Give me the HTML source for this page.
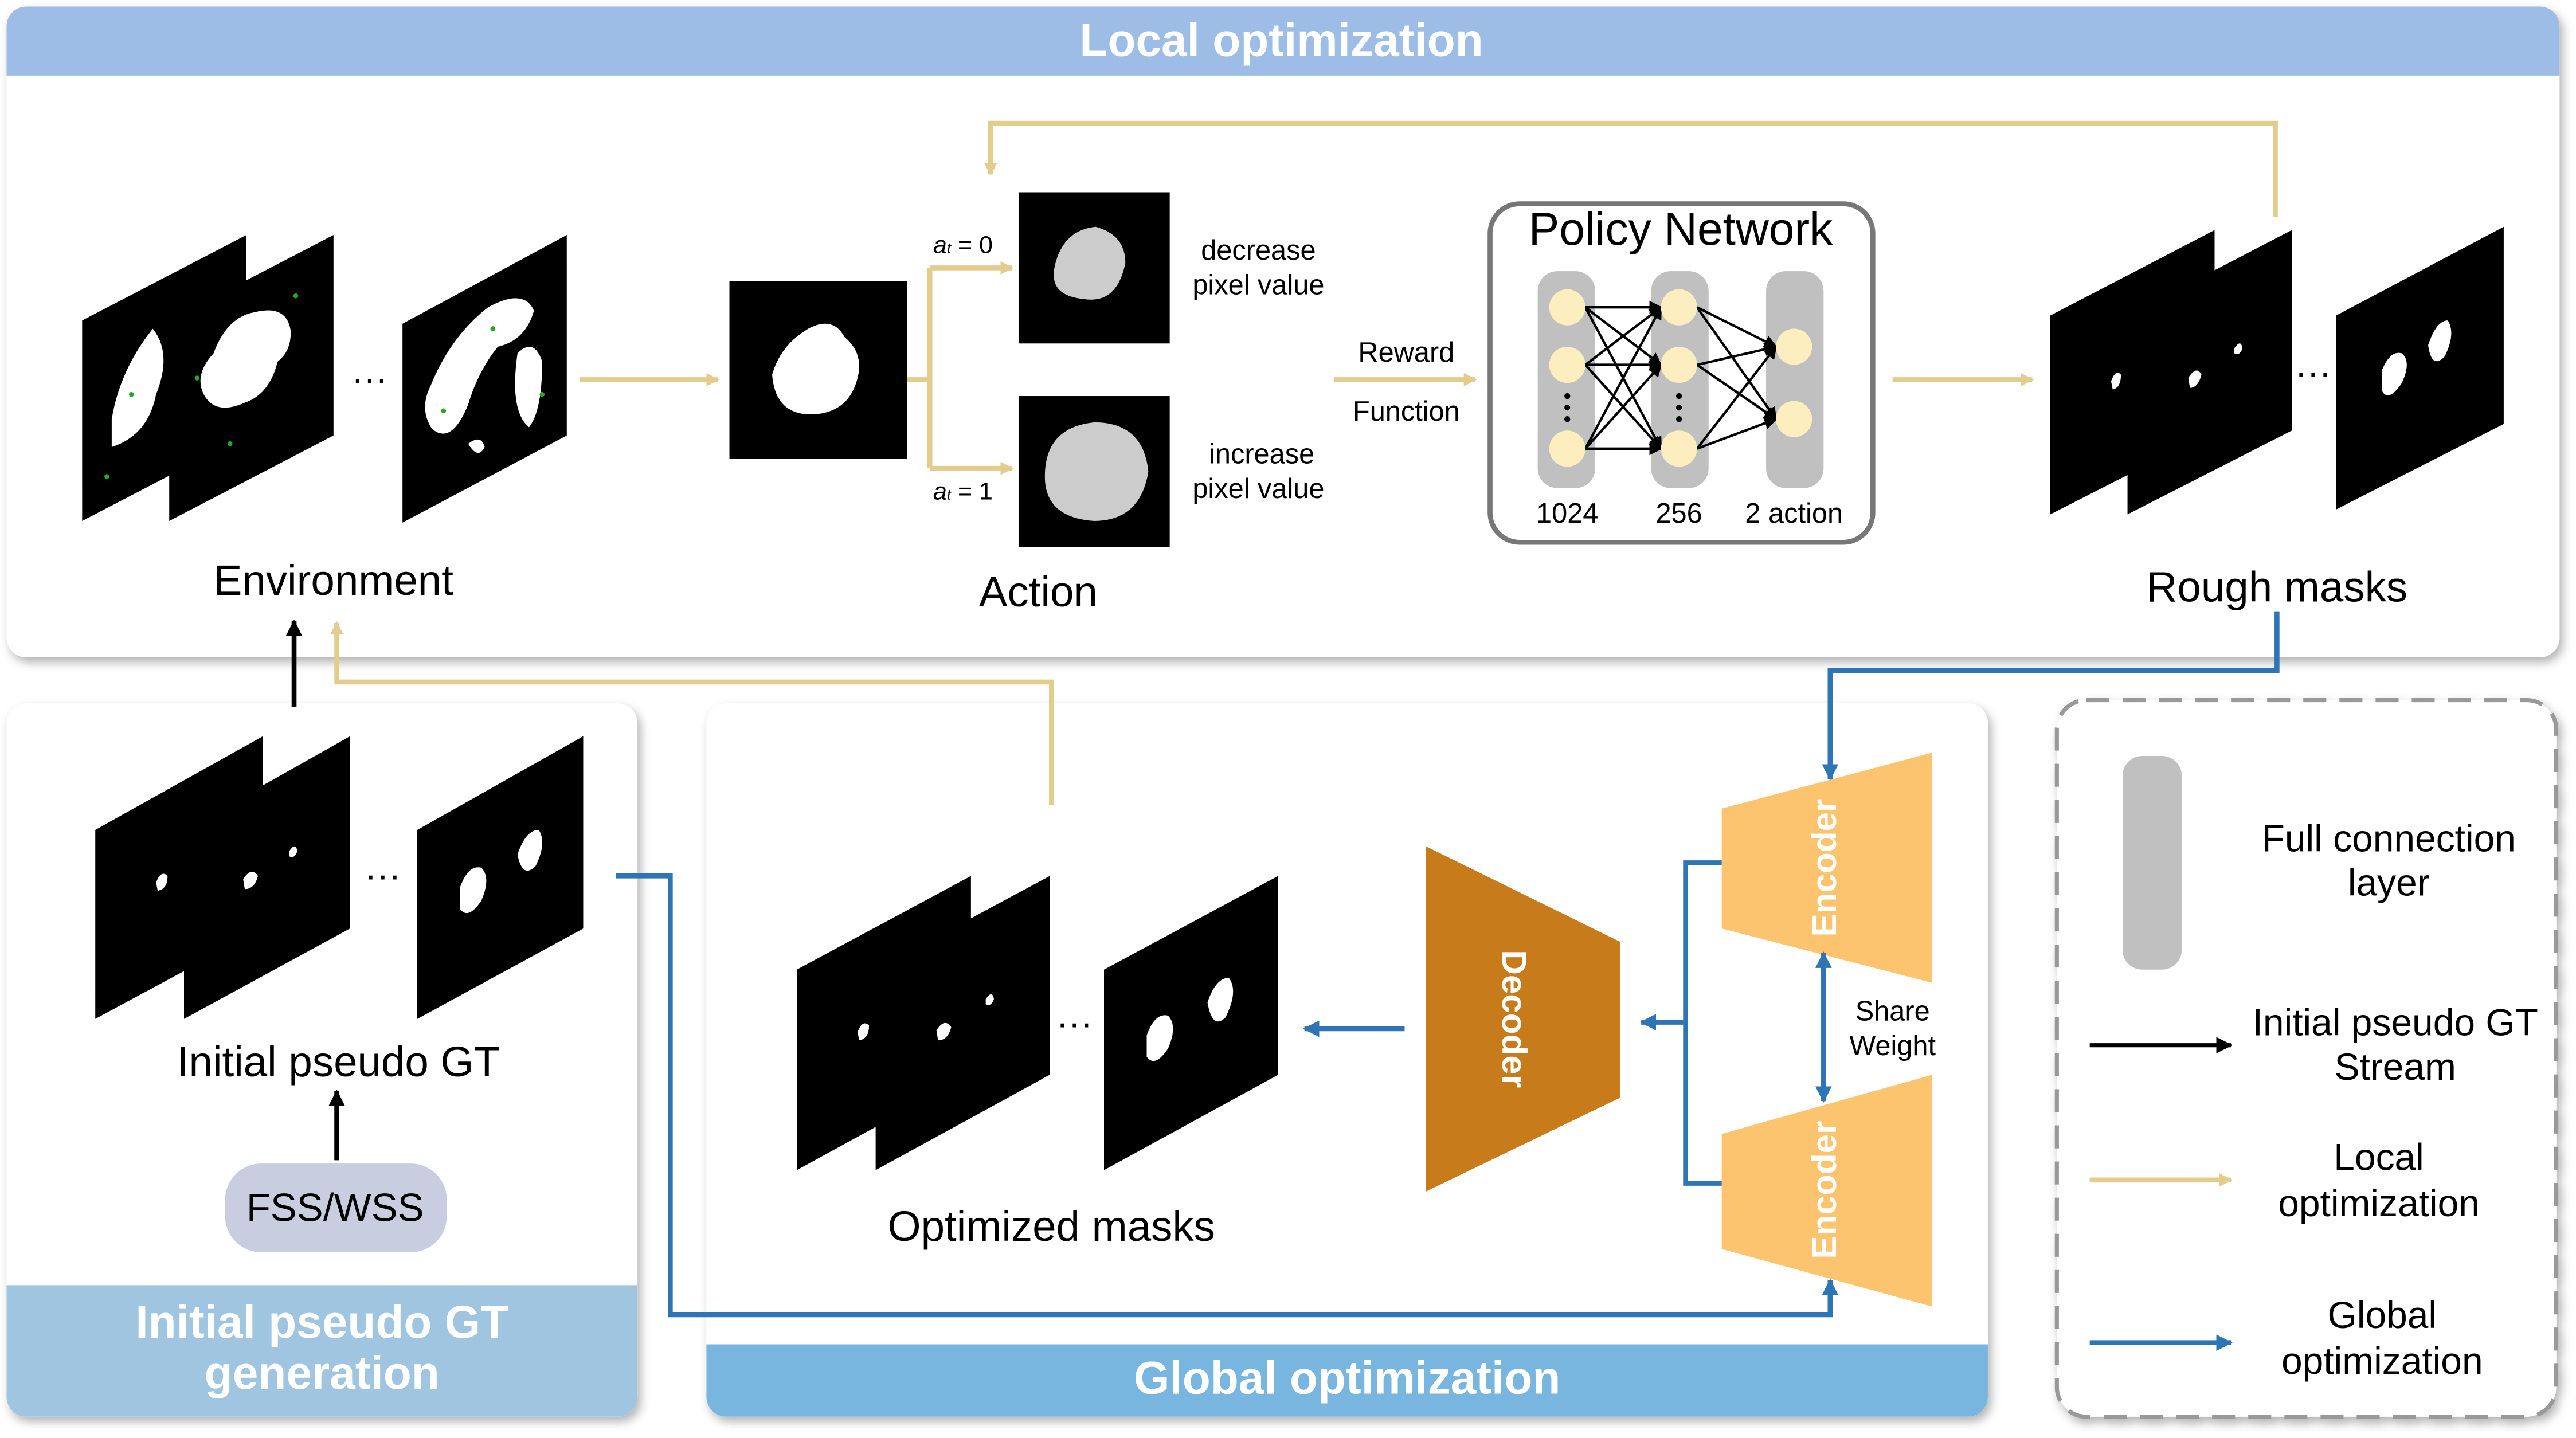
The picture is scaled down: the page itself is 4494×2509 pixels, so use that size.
<!DOCTYPE html>
<html><head><meta charset="utf-8">
<style>
html,body{margin:0;padding:0;background:#fff;}
svg{display:block;}
text{font-family:"Liberation Sans",Arial,sans-serif;}
</style></head>
<body>
<svg width="4494" height="2509" viewBox="0 0 1568 875" preserveAspectRatio="none" xmlns="http://www.w3.org/2000/svg">
<defs>
<filter id="sh" x="-5%" y="-5%" width="110%" height="115%"><feDropShadow dx="2" dy="3" stdDeviation="3" flood-color="#000" flood-opacity="0.3"/></filter>
<marker id="aT" markerWidth="8" markerHeight="8" refX="7" refY="4" orient="auto" markerUnits="userSpaceOnUse"><path d="M0,0 L8,4 L0,8 Z" fill="#e3cc8c"/></marker>
<marker id="aB" markerWidth="10" markerHeight="10" refX="9" refY="5" orient="auto" markerUnits="userSpaceOnUse"><path d="M0,0 L10,5 L0,10 Z" fill="#2e75b6"/></marker>
<marker id="aK" markerWidth="10" markerHeight="10" refX="9" refY="5" orient="auto" markerUnits="userSpaceOnUse"><path d="M0,0 L10,5 L0,10 Z" fill="#000"/></marker>
<marker id="aS" markerWidth="8" markerHeight="8" refX="7" refY="4" orient="auto" markerUnits="userSpaceOnUse"><path d="M0,0 L8,4 L0,8 Z" fill="#000"/></marker>
</defs>

<rect x="4" y="4" width="1554" height="396" rx="12" fill="#fff" filter="url(#sh)"/>
<path d="M4,16 a12,12 0 0 1 12,-12 H1546 a12,12 0 0 1 12,12 V46 H4 Z" fill="#9dbde6"/>
<text x="780" y="34" font-size="28" font-weight="bold" fill="#fff" text-anchor="middle">Local optimization</text>

<rect x="4" y="428" width="384" height="434" rx="12" fill="#fff" filter="url(#sh)"/>
<path d="M4,782 H388 V850 a12,12 0 0 1 -12,12 H16 a12,12 0 0 1 -12,-12 Z" fill="#9fc5e0"/>
<text x="196" y="814" font-size="28" font-weight="bold" fill="#fff" text-anchor="middle">Initial pseudo GT</text>
<text x="196" y="845" font-size="28" font-weight="bold" fill="#fff" text-anchor="middle">generation</text>

<rect x="430" y="428" width="780" height="434" rx="12" fill="#fff" filter="url(#sh)"/>
<path d="M430,818 H1210 V850 a12,12 0 0 1 -12,12 H442 a12,12 0 0 1 -12,-12 Z" fill="#78b6e0"/>
<text x="820" y="848" font-size="28" font-weight="bold" fill="#fff" text-anchor="middle">Global optimization</text>

<rect x="1252" y="426" width="304" height="436" rx="18" fill="#fff" stroke="#999" stroke-width="2.5" stroke-dasharray="14,8" filter="url(#sh)"/>
<rect x="1292" y="460" width="36" height="130" rx="12" fill="#c0c0c0"/>
<text x="1454" y="518" font-size="23" text-anchor="middle">Full connection</text>
<text x="1454" y="545" font-size="23" text-anchor="middle">layer</text>
<line x1="1272" y1="636" x2="1358" y2="636" stroke="#000" stroke-width="2.5" marker-end="url(#aK)"/>
<text x="1458" y="630" font-size="23" text-anchor="middle">Initial pseudo GT</text>
<text x="1458" y="657" font-size="23" text-anchor="middle">Stream</text>
<line x1="1272" y1="718" x2="1358" y2="718" stroke="#e3cc8c" stroke-width="3" marker-end="url(#aT)"/>
<text x="1448" y="712" font-size="23" text-anchor="middle">Local</text>
<text x="1448" y="740" font-size="23" text-anchor="middle">optimization</text>
<line x1="1272" y1="817" x2="1358" y2="817" stroke="#2e75b6" stroke-width="3" marker-end="url(#aB)"/>
<text x="1450" y="808" font-size="23" text-anchor="middle">Global</text>
<text x="1450" y="836" font-size="23" text-anchor="middle">optimization</text>

<polygon points="50,195 150,143 150,265 50,317" fill="#000"/>
<polygon points="103,195 203,143 203,265 103,317" fill="#000"/>
<path d="M130,215 q8,-22 25,-25 q20,-5 22,12 q0,12 -8,18 q-5,20 -20,25 q-18,8 -25,-5 q-6,-12 6,-25z" fill="#fff"/>
<path d="M68,255 q5,-30 25,-55 q12,15 2,40 q-5,25 -27,32 z" fill="#fff"/>
<polygon points="245,197 345,143 345,265 245,318" fill="#000"/>
<path d="M262,235 q12,-30 35,-48 q22,-12 28,2 q-5,18 -22,22 q-12,15 -18,35 q-10,25 -22,15 q-8,-12 -1,-26z M315,215 q10,-10 15,5 q0,30 -8,40 q-12,-10 -7,-45z M285,270 q8,-6 10,2 q-4,8 -10,-2z" fill="#fff"/>
<g fill="#2a2"><circle cx="80" cy="240" r="1.5"/><circle cx="120" cy="230" r="1.5"/><circle cx="270" cy="250" r="1.5"/><circle cx="300" cy="200" r="1.5"/><circle cx="140" cy="270" r="1.5"/><circle cx="330" cy="240" r="1.5"/><circle cx="65" cy="290" r="1.5"/><circle cx="180" cy="180" r="1.5"/></g>
<text x="225" y="238" font-size="22" text-anchor="middle">···</text>
<text x="203" y="362" font-size="26" text-anchor="middle">Environment</text>

<line x1="353" y1="231" x2="437" y2="231" stroke="#e3cc8c" stroke-width="3" marker-end="url(#aT)"/>
<rect x="444" y="171" width="108" height="108" fill="#000"/>
<path d="M470,228 q5,-18 22,-28 q15,-8 22,5 q12,10 8,25 q-5,20 -25,22 q-25,2 -27,-24z" fill="#fff"/>
<path d="M552,231 H566 M566,163 V285" stroke="#e3cc8c" stroke-width="3" fill="none"/>
<line x1="566" y1="163" x2="616" y2="163" stroke="#e3cc8c" stroke-width="3" marker-end="url(#aT)"/>
<line x1="566" y1="285" x2="616" y2="285" stroke="#e3cc8c" stroke-width="3" marker-end="url(#aT)"/>
<text x="568" y="154" font-size="15" font-family="Liberation Serif" font-style="italic">a<tspan font-size="9">t</tspan><tspan font-style="normal"> = 0</tspan></text>
<text x="568" y="304" font-size="15" font-family="Liberation Serif" font-style="italic">a<tspan font-size="9">t</tspan><tspan font-style="normal"> = 1</tspan></text>
<rect x="620" y="117" width="92" height="92" fill="#000"/>
<path d="M642,162 q5,-22 25,-24 q18,5 18,22 q-5,25 -25,22 q-22,-2 -18,-20z" fill="#ccc"/>
<rect x="620" y="241" width="92" height="92" fill="#000"/>
<path d="M636,290 q0,-30 30,-33 q30,0 33,30 q-5,30 -33,30 q-30,-2 -30,-27z" fill="#ccc"/>
<text x="766" y="158" font-size="17" text-anchor="middle">decrease</text>
<text x="766" y="179" font-size="17" text-anchor="middle">pixel value</text>
<text x="768" y="282" font-size="17" text-anchor="middle">increase</text>
<text x="766" y="303" font-size="17" text-anchor="middle">pixel value</text>
<text x="632" y="369" font-size="26" text-anchor="middle">Action</text>
<text x="856" y="220" font-size="17" text-anchor="middle">Reward</text>
<text x="856" y="256" font-size="17" text-anchor="middle">Function</text>
<line x1="812" y1="231" x2="898" y2="231" stroke="#e3cc8c" stroke-width="3" marker-end="url(#aT)"/>

<rect x="907" y="124" width="233" height="206" rx="18" fill="#fff" stroke="#777" stroke-width="3"/>
<text x="1023" y="149" font-size="28" text-anchor="middle">Policy Network</text>
<rect x="936" y="165" width="35" height="132" rx="12" fill="#c0c0c0"/>
<rect x="1005" y="165" width="35" height="132" rx="12" fill="#c0c0c0"/>
<rect x="1075" y="165" width="35" height="132" rx="12" fill="#c0c0c0"/>
<g stroke="#000" stroke-width="1.5" marker-end="url(#aS)">
<line x1="965" y1="187" x2="1011" y2="187"/><line x1="965" y1="187" x2="1011" y2="222"/><line x1="965" y1="187" x2="1011" y2="273"/>
<line x1="965" y1="222" x2="1011" y2="187"/><line x1="965" y1="222" x2="1011" y2="222"/><line x1="965" y1="222" x2="1011" y2="273"/>
<line x1="965" y1="273" x2="1011" y2="187"/><line x1="965" y1="273" x2="1011" y2="222"/><line x1="965" y1="273" x2="1011" y2="273"/>
<line x1="1033" y1="187" x2="1081" y2="211"/><line x1="1033" y1="187" x2="1081" y2="255"/>
<line x1="1033" y1="222" x2="1081" y2="211"/><line x1="1033" y1="222" x2="1081" y2="255"/>
<line x1="1033" y1="273" x2="1081" y2="211"/><line x1="1033" y1="273" x2="1081" y2="255"/>
</g>
<g fill="#fdeebf"><circle cx="954" cy="187" r="11"/><circle cx="954" cy="222" r="11"/><circle cx="954" cy="273" r="11"/><circle cx="1022" cy="187" r="11"/><circle cx="1022" cy="222" r="11"/><circle cx="1022" cy="273" r="11"/><circle cx="1092" cy="211" r="11"/><circle cx="1092" cy="255" r="11"/></g>
<g fill="#000"><circle cx="954" cy="241" r="1.8"/><circle cx="954" cy="248" r="1.8"/><circle cx="954" cy="255" r="1.8"/><circle cx="1022" cy="241" r="1.8"/><circle cx="1022" cy="248" r="1.8"/><circle cx="1022" cy="255" r="1.8"/></g>
<text x="954" y="318" font-size="17" text-anchor="middle">1024</text>
<text x="1022" y="318" font-size="17" text-anchor="middle">256</text>
<text x="1092" y="318" font-size="17" text-anchor="middle">2 action</text>

<line x1="1152" y1="231" x2="1237" y2="231" stroke="#e3cc8c" stroke-width="3" marker-end="url(#aT)"/>
<polygon points="1248,192 1348,140 1348,262 1248,313" fill="#000"/>
<polygon points="1295,192 1395,140 1395,262 1295,313" fill="#000"/>
<polygon points="1422,192 1524,138 1524,258 1422,310" fill="#000"/>
<path d="M1285,232 q3,-8 6,-4 q0,8 -5,9z M1332,230 q5,-8 8,-2 q-2,8 -7,8z M1360,212 q4,-6 5,0 q-2,5 -5,3z" fill="#fff"/>
<path d="M1450,225 q5,-12 12,-10 q6,5 0,18 q-8,12 -12,5z M1478,210 q5,-15 12,-15 q5,8 -2,22 q-8,8 -10,-7z" fill="#fff"/>
<text x="1408" y="234" font-size="22" text-anchor="middle">···</text>
<text x="1386" y="366" font-size="26" text-anchor="middle">Rough masks</text>
<path d="M1385,132 V75 H603 V106" stroke="#e3cc8c" stroke-width="3" fill="none" marker-end="url(#aT)"/>

<polygon points="58,505 160,448 160,565 58,620" fill="#000"/>
<polygon points="112,505 213,448 213,565 112,620" fill="#000"/>
<polygon points="254,505 355,448 355,565 254,620" fill="#000"/>
<path d="M95,537 q3,-8 7,-4 q0,8 -6,9z M148,535 q5,-8 9,-2 q-2,8 -8,8z M176,518 q4,-6 5,0 q-2,5 -5,3z" fill="#fff"/>
<path d="M280,540 q5,-14 13,-12 q6,6 0,20 q-8,12 -13,5z M315,520 q5,-15 13,-15 q5,8 -2,22 q-8,8 -11,-7z" fill="#fff"/>
<text x="233" y="540" font-size="22" text-anchor="middle">···</text>
<text x="206" y="655" font-size="26" text-anchor="middle">Initial pseudo GT</text>
<line x1="205" y1="706" x2="205" y2="664" stroke="#000" stroke-width="3" marker-end="url(#aK)"/>
<rect x="137" y="708" width="135" height="54" rx="22" fill="#c9cde0"/>
<text x="204" y="743" font-size="24" text-anchor="middle">FSS/WSS</text>
<line x1="179" y1="430" x2="179" y2="378" stroke="#000" stroke-width="3" marker-end="url(#aK)"/>
<path d="M640,490 V415 H205 V379" stroke="#e3cc8c" stroke-width="3" fill="none" marker-end="url(#aT)"/>

<polygon points="485,590 591,533 591,654 485,712" fill="#000"/>
<polygon points="533,590 639,533 639,654 533,712" fill="#000"/>
<polygon points="672,590 778,533 778,654 672,712" fill="#000"/>
<path d="M522,628 q3,-8 7,-4 q0,8 -6,9z M570,627 q5,-8 9,-2 q-2,8 -8,8z M600,608 q4,-6 5,0 q-2,5 -5,3z" fill="#fff"/>
<path d="M698,630 q5,-14 13,-12 q6,6 0,20 q-8,12 -13,5z M735,610 q5,-15 13,-15 q6,8 -2,24 q-8,8 -11,-9z" fill="#fff"/>
<text x="654" y="630" font-size="22" text-anchor="middle">···</text>
<text x="640" y="755" font-size="26" text-anchor="middle">Optimized masks</text>

<polygon points="868,515 986,573 986,668 868,725" fill="#c87b1a"/>
<text transform="translate(920,620) rotate(90)" font-size="21" font-weight="bold" fill="#fff" text-anchor="middle" dominant-baseline="middle">Decoder</text>
<polygon points="1048,492 1176,458 1176,598 1048,565" fill="#fcc46e"/>
<text transform="translate(1112,528) rotate(-90)" font-size="21" font-weight="bold" fill="#fff" text-anchor="middle" dominant-baseline="middle">Encoder</text>
<polygon points="1048,690 1176,654 1176,795 1048,760" fill="#fcc46e"/>
<text transform="translate(1112,724) rotate(-90)" font-size="21" font-weight="bold" fill="#fff" text-anchor="middle" dominant-baseline="middle">Encoder</text>
<line x1="1110" y1="590" x2="1110" y2="580" stroke="#2e75b6" stroke-width="3" marker-end="url(#aB)"/>
<line x1="1110" y1="585" x2="1110" y2="670" stroke="#2e75b6" stroke-width="3" marker-end="url(#aB)"/>
<text x="1152" y="621" font-size="17" text-anchor="middle">Share</text>
<text x="1152" y="642" font-size="17" text-anchor="middle">Weight</text>
<path d="M1048,525 H1026 V720 H1048" stroke="#2e75b6" stroke-width="3" fill="none"/>
<line x1="1026" y1="622" x2="999" y2="622" stroke="#2e75b6" stroke-width="3" marker-end="url(#aB)"/>
<line x1="855" y1="626" x2="794" y2="626" stroke="#2e75b6" stroke-width="3" marker-end="url(#aB)"/>
<path d="M1386,372 V408 H1114 V474" stroke="#2e75b6" stroke-width="3" fill="none" marker-end="url(#aB)"/>
<path d="M375,533 H408 V800 H1114 V779" stroke="#2e75b6" stroke-width="3" fill="none" marker-end="url(#aB)"/>
</svg>
</body></html>
